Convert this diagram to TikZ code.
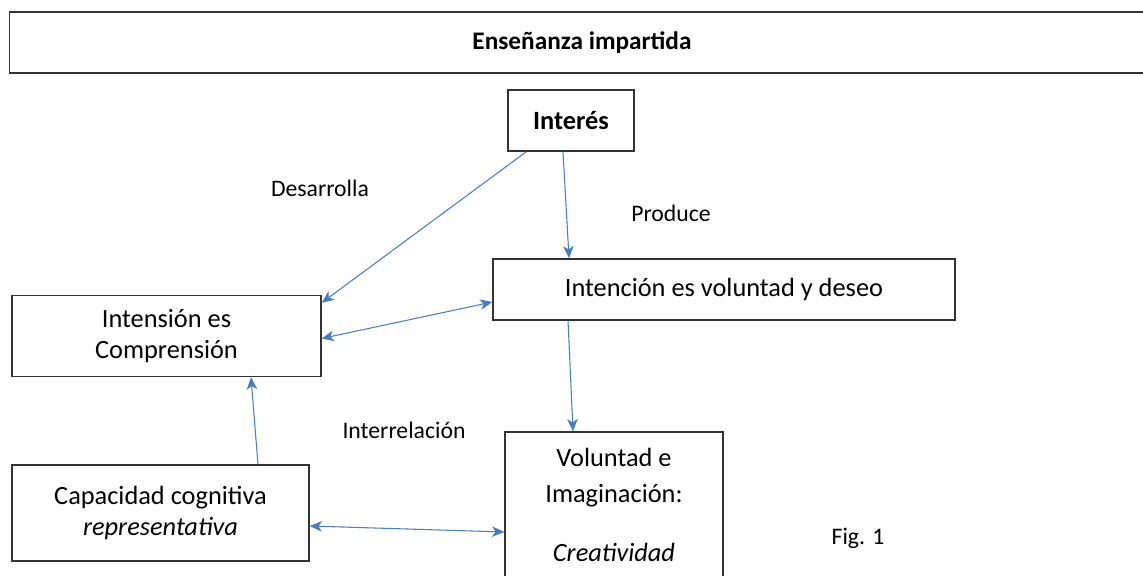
\documentclass[tikz,border=0pt]{standalone}
\usepackage{fontspec}
\setmainfont{Carlito}
\usetikzlibrary{arrows.meta}
\definecolor{flecha}{HTML}{4A7EBB}
\tikzset{
  caja/.style={draw=black!80,line width=0.8pt,align=center,inner sep=0pt,
    font=\fontsize{15}{17.5}\selectfont},
  rotulo/.style={font=\fontsize{13.5}{16}\selectfont,inner sep=0pt},
  flec/.style={draw=flecha,line width=0.6pt,-{Stealth[length=7pt,width=6pt,inset=2pt]}},
  dflec/.style={draw=flecha,line width=0.6pt,{Stealth[length=7pt,width=6pt,inset=2pt]}-{Stealth[length=7pt,width=6pt,inset=2pt]}}
}
\begin{document}
\begin{tikzpicture}[x=0.02cm,y=-0.02cm]
\useasboundingbox (0,0) rectangle (1143,575);
\node[caja,line width=1pt,minimum width=22.9cm,minimum height=1.22cm,font=\fontsize{14.4}{17}\selectfont] (ense) at (582,42.5) {\textbf{Enseñanza impartida}};
\node[caja,minimum width=2.52cm,minimum height=1.22cm] (inte) at (571,120.5) {\textbf{Interés}};
\node[caja,minimum width=9.24cm,minimum height=1.22cm] (intc) at (724,289.5) {Intención es voluntad y deseo};
\node[caja,minimum width=6.18cm,minimum height=1.62cm] (ints) at (166.5,336) {Intensión es\\Comprensión};
\node[caja,minimum width=5.94cm,minimum height=1.92cm] (capa) at (160.5,513) {Capacidad cognitiva\\\textit{representativa}};
\node[caja,minimum width=4.36cm,minimum height=2.92cm] (volu) at (614,505) {Voluntad e\\[3pt]Imaginación:\\[16pt]\textit{Creatividad}};
\node[rotulo] (desa) at (320,188) {Desarrolla};
\node[rotulo] (prod) at (671,213) {Produce};
\node[rotulo] (intr) at (404,430) {Interrelación};
\node[rotulo] (fig) at (858,538) {Fig. 1};
\draw[flec] ([xshift=0.38cm]inte.south west) -- ([yshift=-0.16cm]ints.north east);
\draw[flec] ([xshift=-0.16cm]inte.south) -- ([xshift=-3.1cm]intc.north);
\draw[dflec] ([yshift=-0.05cm]ints.east) -- ([yshift=-0.25cm]intc.west);
\draw[flec] ([xshift=1.95cm]capa.north) -- ([xshift=1.69cm]ints.south);
\draw[flec] ([xshift=-3.12cm]intc.south) -- ([xshift=-0.82cm]volu.north);
\draw[dflec] ([yshift=-0.26cm]capa.east) -- ([yshift=-0.54cm]volu.west);
\end{tikzpicture}
\end{document}
